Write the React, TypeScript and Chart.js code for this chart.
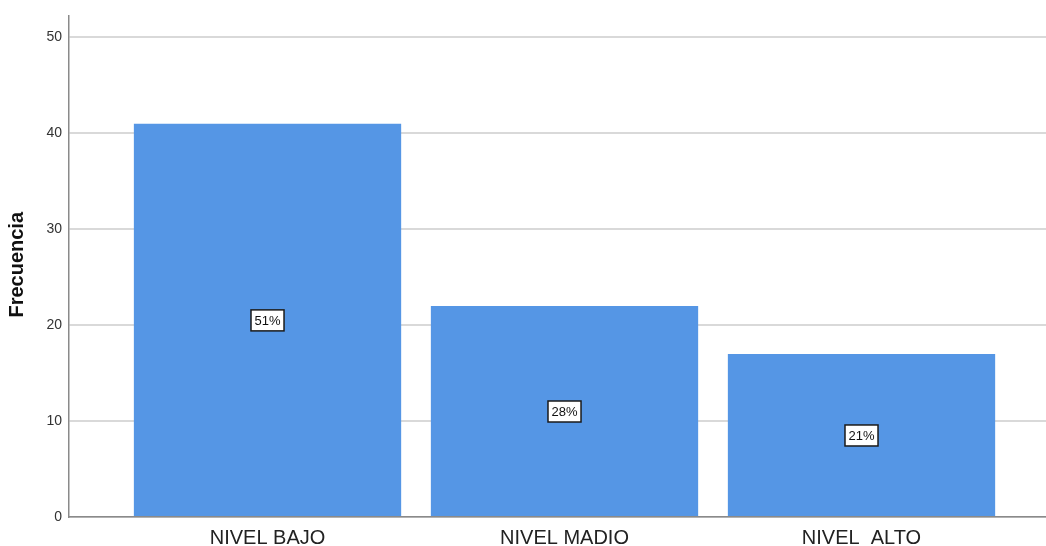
import React, { useEffect, useRef } from "react";
import { Chart, registerables } from "chart.js";

Chart.register(...registerables);

const categories = ["NIVEL BAJO", "NIVEL MADIO", "NIVEL  ALTO"];
const frequencies = [41, 22, 17];
const percentLabels = ["51%", "28%", "21%"];
const yTicks = [0, 10, 20, 30, 40, 50];
const yAxisTitle = "Frecuencia";

const BAR_COLOR = "#5596e5";

const labelPlugin = {
  id: "pctLabels",
  afterDatasetsDraw(chart: any) {
    const ctx = chart.ctx;
    const meta = chart.getDatasetMeta(0);
    const yScale = chart.scales.y;
    ctx.save();
    ctx.font = "13px 'Liberation Sans', Arial, sans-serif";
    ctx.textAlign = "center";
    ctx.textBaseline = "middle";
    meta.data.forEach((bar: any, i: number) => {
      const v = frequencies[i];
      const cy = yScale.getPixelForValue(v / 2);
      const cx = bar.x;
      const text = percentLabels[i];
      const w = ctx.measureText(text).width + 7;
      const h = 21;
      ctx.fillStyle = "#ffffff";
      ctx.fillRect(cx - w / 2, cy - h / 2, w, h);
      ctx.strokeStyle = "#1a1a1a";
      ctx.lineWidth = 1.5;
      ctx.strokeRect(cx - w / 2, cy - h / 2, w, h);
      ctx.fillStyle = "#111111";
      ctx.fillText(text, cx, cy + 1);
    });
    // y-axis title
    ctx.font = "bold 20px 'Liberation Sans', Arial, sans-serif";
    ctx.translate(17, yScale.getPixelForValue(26.3));
    ctx.rotate(-Math.PI / 2);
    ctx.fillStyle = "#111111";
    ctx.fillText(yAxisTitle, 0, 0);
    ctx.restore();
  },
};

export default function App() {
  const ref = useRef<HTMLCanvasElement | null>(null);
  useEffect(() => {
    if (!ref.current) return;
    const chart = new Chart(ref.current, {
      type: "bar",
      data: {
        datasets: [
          {
            data: frequencies.map((v, i) => ({ x: i, y: v })),
            backgroundColor: BAR_COLOR,
            borderWidth: 0,
            barPercentage: 0.9,
            categoryPercentage: 1,
          },
        ],
      },
      plugins: [labelPlugin],
      options: {
        animation: false,
        responsive: false,
        maintainAspectRatio: false,
        layout: { padding: { top: 12, left: 0, right: 0, bottom: 0 } },
        plugins: { legend: { display: false }, tooltip: { enabled: false } },
        scales: {
          x: {
            type: "linear",
            min: -0.6684,
            max: 2.6212,
            offset: false,
            grid: { display: false },
            border: { display: true, color: "#8a8a8a", width: 1.5 },
            afterBuildTicks: (scale: any) => {
              scale.ticks = categories.map((_, i) => ({ value: i }));
            },
            afterFit: (scale: any) => {
              scale.height = 29;
            },
            ticks: {
              autoSkip: false,
              maxRotation: 0,
              padding: 1,
              color: "#222222",
              font: { family: "'Liberation Sans', Arial, sans-serif", size: 20 },
              callback: (v: any) => categories[Math.round(Number(v))] ?? "",
            },
          },
          y: {
            min: 0,
            max: 52.3,
            grid: { color: "#d9d9d9", lineWidth: 2, drawTicks: false },
            border: { display: true, color: "#8a8a8a", width: 1.5 },
            afterBuildTicks: (scale: any) => {
              scale.ticks = yTicks.map((v) => ({ value: v }));
            },
            afterFit: (scale: any) => {
              scale.width = 69;
            },
            ticks: {
              padding: 7,
              color: "#333333",
              font: { family: "'Liberation Sans', Arial, sans-serif", size: 14 },
            },
          },
        },
      },
    });
    return () => chart.destroy();
  }, []);
  return (
    <div style={{ position: "absolute", left: 0, top: 0, width: 1046, height: 546, background: "#fff" }}>
      <canvas ref={ref} width={1046} height={546} style={{ width: 1046, height: 546, display: "block" }} />
    </div>
  );
}
